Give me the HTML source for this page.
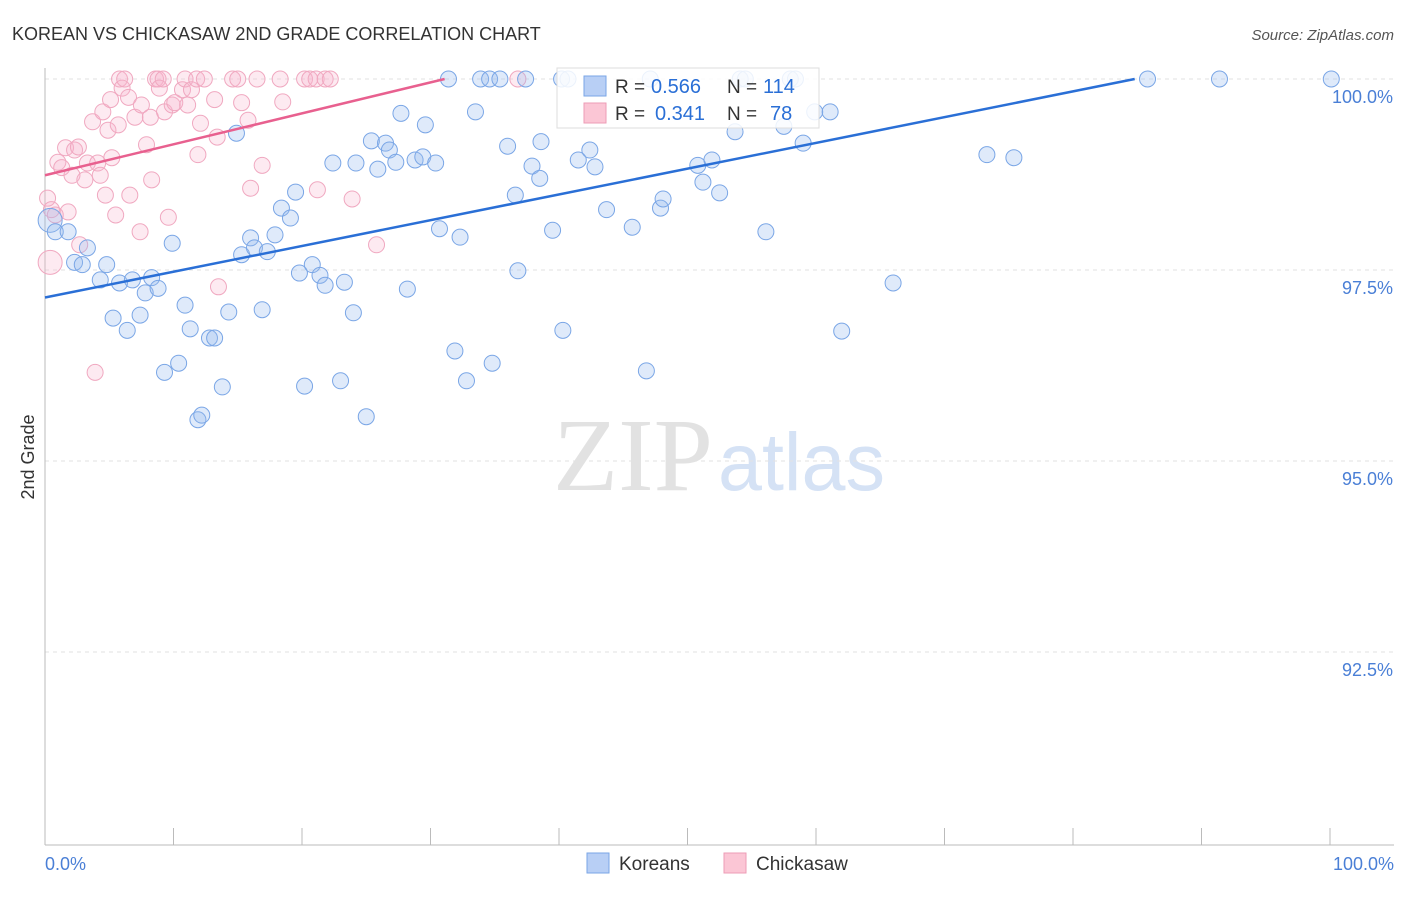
<!DOCTYPE html>
<html><head><meta charset="utf-8"><style>
body{margin:0;background:#fff;font-family:"Liberation Sans",sans-serif}
svg text{font-family:"Liberation Sans",sans-serif}
</style></head><body>
<svg id="c" width="1406" height="892">
<text x="12" y="40" font-size="18" fill="#333">KOREAN VS CHICKASAW 2ND GRADE CORRELATION CHART</text>
<text x="1394" y="40" font-size="15" fill="#555" font-style="italic" text-anchor="end">Source: ZipAtlas.com</text>
<text x="553" y="490" font-size="104" fill="#e2e2e2" style="font-family:'Liberation Serif',serif" textLength="160" lengthAdjust="spacingAndGlyphs">ZIP</text>
<text x="718" y="490" font-size="82" fill="#d5e2f5" textLength="167" lengthAdjust="spacingAndGlyphs">atlas</text>
<text x="34" y="457" font-size="18" fill="#333" transform="rotate(-90 34 457)" text-anchor="middle">2nd Grade</text>
<g id="grid"></g><g id="pts"></g><g id="lines"></g>
<g>
<rect x="557" y="68" width="262" height="60" fill="#fff" fill-opacity="0.85" stroke="#ddd"/>
<rect x="584" y="76" width="22" height="20" fill="#b8cff5" stroke="#7aa6e6"/>
<rect x="584" y="103" width="22" height="20" fill="#fbc6d5" stroke="#ee9cb6"/>
<text x="615" y="93" font-size="19" fill="#333">R =</text>
<text x="651" y="93" font-size="20" fill="#2a6fd6">0.566</text>
<text x="727" y="93" font-size="19" fill="#333">N =</text>
<text x="763" y="93" font-size="20" fill="#2a6fd6">114</text>
<text x="615" y="120" font-size="19" fill="#333">R =</text>
<text x="655" y="120" font-size="20" fill="#2a6fd6">0.341</text>
<text x="727" y="120" font-size="19" fill="#333">N =</text>
<text x="770" y="120" font-size="20" fill="#2a6fd6">78</text>
</g>
<g>
<rect x="587" y="853" width="22" height="20" fill="#b8cff5" stroke="#7aa6e6"/>
<text x="619" y="870" font-size="19" fill="#333">Koreans</text>
<rect x="724" y="853" width="22" height="20" fill="#fbc6d5" stroke="#ee9cb6"/>
<text x="756" y="870" font-size="19" fill="#333">Chickasaw</text>
</g>
</svg>
<script>
const yTicks=[100,97.5,95,92.5];
const yTickLabels=["100.0%","97.5%","95.0%","92.5%"];
const koreanPx=[[50,220],[55,232],[68,232],[75,262],[82,265],[88,248],[100,280],[107,265],[113,318],[120,283],[127,330],[133,280],[140,315],[145,293],[152,278],[158,288],[165,372],[172,243],[178,363],[185,305],[190,329],[198,420],[202,415],[210,338],[215,338],[222,387],[229,312],[236,133],[242,255],[250,238],[255,248],[262,310],[267,252],[275,235],[282,208],[290,218],[296,192],[300,273],[305,386],[312,265],[320,275],[325,285],[333,163],[340,381],[345,282],[353,313],[356,163],[366,417],[371,141],[378,169],[385,143],[390,150],[396,162],[401,113],[407,289],[415,160],[423,157],[426,125],[435,163],[440,229],[449,79],[455,351],[460,237],[466,381],[475,112],[480,79],[490,79],[492,363],[500,79],[507,146],[515,195],[518,271],[525,79],[532,166],[540,178],[541,142],[553,230],[561,79],[563,330],[568,79],[578,160],[590,150],[595,167],[606,210],[632,227],[646,371],[650,79],[660,208],[663,199],[698,165],[703,182],[712,160],[719,193],[735,132],[740,79],[745,79],[766,232],[784,126],[790,79],[795,79],[803,143],[815,112],[830,112],[842,331],[893,283],[987,155],[1014,158],[1148,79],[1220,79],[1331,79]];
const chickPx=[[48,198],[50,262],[52,210],[55,215],[58,162],[62,168],[65,148],[68,212],[72,175],[75,150],[78,147],[80,245],[85,180],[88,163],[92,122],[95,372],[98,163],[100,175],[103,112],[105,195],[108,130],[110,100],[112,158],[116,215],[118,125],[120,79],[122,88],[125,79],[128,97],[130,195],[135,117],[140,232],[142,105],[147,145],[150,117],[152,180],[155,79],[158,79],[160,88],[163,79],[165,112],[168,217],[172,105],[175,103],[182,90],[185,79],[188,105],[192,90],[196,79],[198,155],[200,123],[204,79],[215,100],[217,137],[218,287],[232,79],[238,79],[242,103],[248,120],[251,188],[257,79],[262,165],[280,79],[283,102],[305,79],[310,79],[318,190],[316,79],[325,79],[330,79],[352,199],[377,245],[518,79]];
const koreanX=koreanPx.map(p=>+((p[0]-45)/12.85).toFixed(1));
const koreanY=koreanPx.map(p=>+(100-(p[1]-79)/76.4).toFixed(2));
const chickX=chickPx.map(p=>+((p[0]-45)/12.85).toFixed(1));
const chickY=chickPx.map(p=>+(100-(p[1]-79)/76.4).toFixed(2));
const koreanTrend=[[0,97.14],[84.8,100]];
const chickTrend=[[0,98.74],[31.1,100]];
const X=v=>45+v*12.85, Y=v=>79+(100-v)*76.4;
const NS='http://www.w3.org/2000/svg';
function mk(tag,at,parent){const e=document.createElementNS(NS,tag);for(const k in at)e.setAttribute(k,at[k]);document.getElementById(parent).appendChild(e);return e;}
yTicks.forEach((t,i)=>{
 const l=mk('line',{x1:45,x2:1394,y1:Y(t),y2:Y(t),stroke:'#e2e2e2','stroke-dasharray':'4,4'},'grid');
 
 
 const tx=mk('text',{x:1393,y:Y(t)+24,'font-size':18,fill:'#4a7fd6','text-anchor':'end'},'grid');
 tx.textContent=yTickLabels[i];
 
 
});
const ax=mk('line',{x1:45,x2:45,y1:68,y2:845,stroke:'#bbb'},'grid');


const bx=mk('line',{x1:45,x2:1394,y1:845,y2:845,stroke:'#bbb'},'grid');


for(let i=0;i<=10;i++){const t=mk('line',{x1:X(i*10),x2:X(i*10),y1:828,y2:845,stroke:'#bbb'},'grid');
 
 }
[['0.0%',45,'start'],['100.0%',1394,'end']].forEach(a=>{const t=mk('text',{x:a[1],y:870,'font-size':18,fill:'#4a7fd6','text-anchor':a[2]},'grid');t.textContent=a[0];
 
 });
chickX.forEach((x,i)=>{const c=mk('circle',{cx:X(x),cy:Y(chickY[i]),r:i==1?12:8,fill:'rgba(248,180,205,0.28)',stroke:'#f0a8c0','stroke-width':1},'pts');
 
 });
koreanX.forEach((x,i)=>{const c=mk('circle',{cx:X(x),cy:Y(koreanY[i]),r:i==0?12:8,fill:'rgba(150,185,240,0.3)',stroke:'#7aa6e6','stroke-width':1},'pts');
 
 });
const l1=mk('line',{x1:X(koreanTrend[0][0]),y1:Y(koreanTrend[0][1]),x2:X(koreanTrend[1][0]),y2:Y(koreanTrend[1][1]),stroke:'#2a6fd6','stroke-width':2.5},'lines');


const l2=mk('line',{x1:X(chickTrend[0][0]),y1:Y(chickTrend[0][1]),x2:X(chickTrend[1][0]),y2:Y(chickTrend[1][1]),stroke:'#e8608f','stroke-width':2.5},'lines');


</script>
</body></html>
